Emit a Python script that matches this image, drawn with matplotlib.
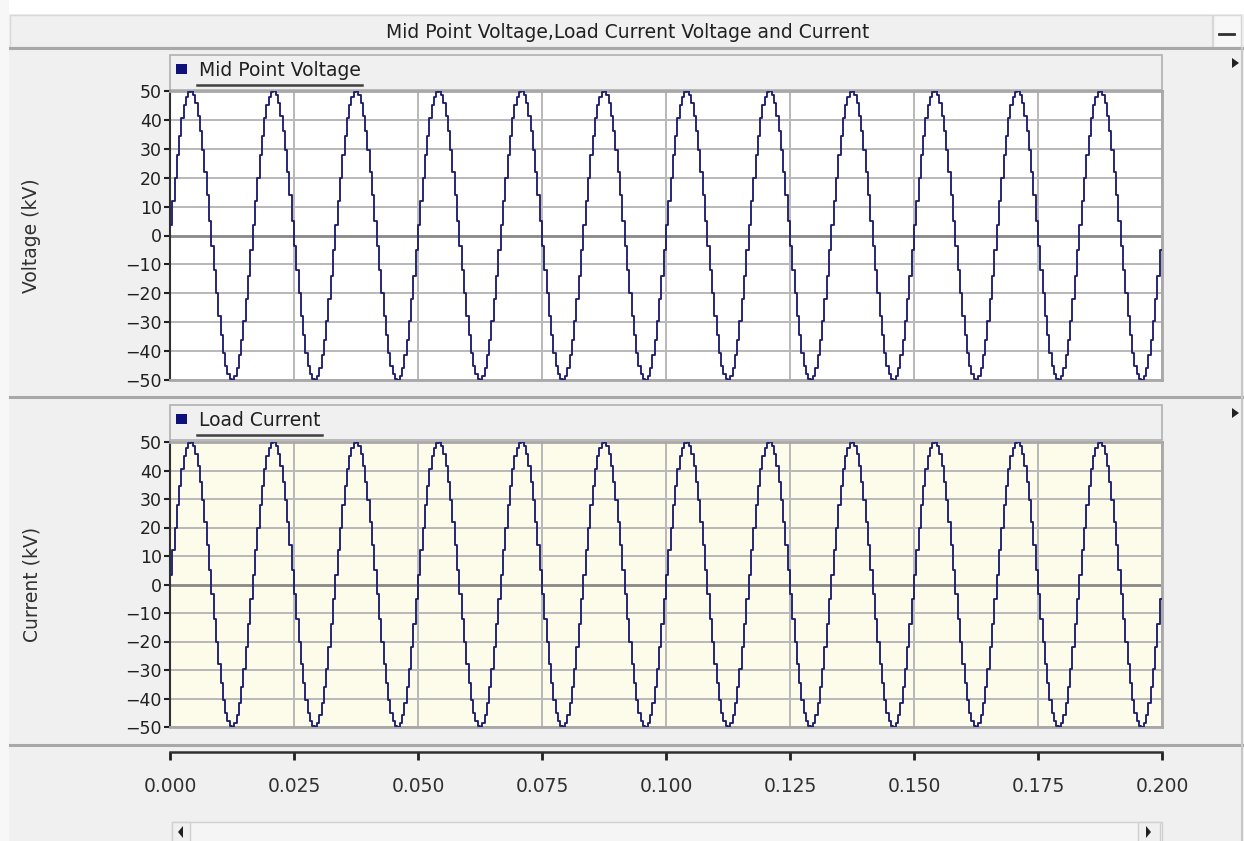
import numpy as np
import matplotlib
matplotlib.use('Agg')
import matplotlib.pyplot as plt
from matplotlib.patches import Rectangle, Polygon

plt.rcParams['font.family'] = ['DejaVu Sans']

# one period of the stepped waveforms (kV), 36 steps per cycle
voltage_cycle = [3.5, 12, 20, 28, 34.5, 40.5, 45, 48, 49.7, 49.9, 48.5, 45.7,
                 41.5, 36, 29.5, 22, 14, 5, -3.5, -12, -20, -28, -34.5, -40.5,
                 -45, -48, -49.7, -49.9, -48.5, -45.7, -41.5, -36, -29.5, -22, -14, -5]
current_cycle = [3.5, 12, 20, 28, 34.5, 40.5, 45, 48, 49.7, 49.9, 48.5, 45.7,
                 41.5, 36, 29.5, 22, 14, 5, -3.5, -12, -20, -28, -34.5, -40.5,
                 -45, -48, -49.7, -49.9, -48.5, -45.7, -41.5, -36, -29.5, -22, -14, -5]
n_cycles = 12
t_end = 0.2
x_ticks = [0.000, 0.025, 0.050, 0.075, 0.100, 0.125, 0.150, 0.175, 0.200]
y_ticks = [50, 40, 30, 20, 10, 0, -10, -20, -30, -40, -50]

title = 'Mid Point Voltage,Load Current Voltage and Current'
names = ['Mid Point Voltage', 'Load Current']
ylabels = ['Voltage (kV)', 'Current (kV)']

W, H = 1244, 841
fig = plt.figure(figsize=(W / 100, H / 100), dpi=100, facecolor='#f0f0f0')

def box(x0, y0, x1, y1):
    # pixel box (top-left origin) -> figure fraction
    return [x0 / W, 1 - y1 / H, (x1 - x0) / W, (y1 - y0) / H]

# background "window" decorations in pixel coordinates
bg = fig.add_axes([0, 0, 1, 1], zorder=-5)
bg.set_xlim(0, W)
bg.set_ylim(H, 0)
bg.axis('off')
bg.add_patch(Rectangle((0, 0), W, 14, fc='white', ec='none'))
bg.add_patch(Rectangle((0, 0), 9, H, fc='#f7f7f7', ec='none'))
bg.add_patch(Rectangle((10, 15), 1202, 32, fc='#f0f0f0', ec='#d8d8d8', lw=1))
bg.add_patch(Rectangle((1213, 15), 28, 32, fc='#f7f7f7', ec='#d8d8d8', lw=1))
bg.plot([1219, 1234], [34, 34], color='#303030', lw=2)
bg.text(628, 32, title, ha='center', va='center', fontsize=13.5, color='#202020')
for yy in [48, 397, 745]:
    bg.plot([10, W], [yy, yy], color='#a8a8a8', lw=2.2)
bg.plot([1242, 1242], [48, H], color='#c8c8c8', lw=1.5)

# header strips with legends
for (y0, y1), name in zip([(55, 90), (405, 440)], names):
    bg.add_patch(Rectangle((170, y0), 992, y1 - y0, fc='#f0f0f0', ec='#b0b0b0', lw=1.2))
    bg.add_patch(Rectangle((176, y0 + 9), 11, 10, fc='#10107a', ec='none'))
    txt = bg.text(199, y0 + 15, name, ha='left', va='center', fontsize=13.5, color='#202020')
    fig.canvas.draw()
    bb = txt.get_window_extent().transformed(bg.transData.inverted())
    bg.plot([197, bb.x1 + 1], [y0 + 30, y0 + 30], color='#404040', lw=1.8)
    bg.add_patch(Polygon([[1232, y0 + 3], [1232, y0 + 13], [1239, y0 + 8]], closed=True,
                         fc='#202020', ec='none'))

# scroll bar at the bottom
bg.add_patch(Rectangle((172, 822), 990, 22, fc='#f5f5f5', ec='#d0d0d0', lw=1))
bg.add_patch(Rectangle((172, 822), 18, 22, fc='#f0f0f0', ec='#d0d0d0', lw=1))
bg.add_patch(Rectangle((1138, 822), 22, 22, fc='#f0f0f0', ec='#d0d0d0', lw=1))
bg.add_patch(Polygon([[183, 826], [183, 838], [178, 832]], closed=True, fc='#202020'))
bg.add_patch(Polygon([[1146, 826], [1146, 838], [1151, 832]], closed=True, fc='#202020'))

# waveform time base
n = len(voltage_cycle) * n_cycles
t = np.linspace(0, t_end, n + 1)
series = [np.append(np.tile(voltage_cycle, n_cycles), voltage_cycle[-1]),
          np.append(np.tile(current_cycle, n_cycles), current_cycle[-1])]

panels = [(91, 380), (442, 727)]
faces = ['white', '#fdfbea']
for (y0, y1), vals, face, lab in zip(panels, series, faces, ylabels):
    ax = fig.add_axes(box(170, y0, 1162, y1))
    ax.set_facecolor(face)
    ax.step(t, vals, where='post', color='#1e1e70', lw=1.35, zorder=3)
    ax.set_xlim(0, t_end)
    ax.set_ylim(-50, 50)
    ax.set_yticks(y_ticks)
    ax.set_xticks(x_ticks)
    ax.set_xticklabels([])
    ax.tick_params(axis='x', length=0)
    ax.tick_params(axis='y', direction='out', length=4, width=1.5, color='#202020',
                   labelsize=12.5, pad=2, labelcolor='#202020')
    for yv in y_ticks:
        if yv == 0:
            ax.axhline(yv, color='#888888', lw=2, zorder=1)
        else:
            ax.axhline(yv, color='#b8b8b8', lw=1.4, zorder=1)
    for xv in x_ticks:
        ax.axvline(xv, color='#b8b8b8', lw=1.4, zorder=1)
    for s in ['top', 'right', 'bottom']:
        ax.spines[s].set_color('#a8a8a8')
        ax.spines[s].set_linewidth(2)
    ax.spines['left'].set_color('#303030')
    ax.spines['left'].set_linewidth(1.5)
    ax.set_ylabel(lab, fontsize=13.5, color='#303030')
    ax.yaxis.set_label_coords(-0.130, 0.5)

# shared time axis below the panels
axx = fig.add_axes(box(170, 751, 1162, 752))
axx.set_facecolor('none')
axx.set_xlim(0, t_end)
axx.set_xticks(x_ticks)
axx.set_xticklabels(['%.3f' % v for v in x_ticks])
axx.set_yticks([])
for s in ['top', 'left', 'right']:
    axx.spines[s].set_visible(False)
axx.spines['bottom'].set_color('#303030')
axx.spines['bottom'].set_linewidth(1.8)
axx.tick_params(axis='x', direction='out', length=6, width=2, color='#202020',
                labelsize=13.5, pad=12, labelcolor='#303030')

fig.savefig('out.png', dpi=100, facecolor=fig.get_facecolor())
